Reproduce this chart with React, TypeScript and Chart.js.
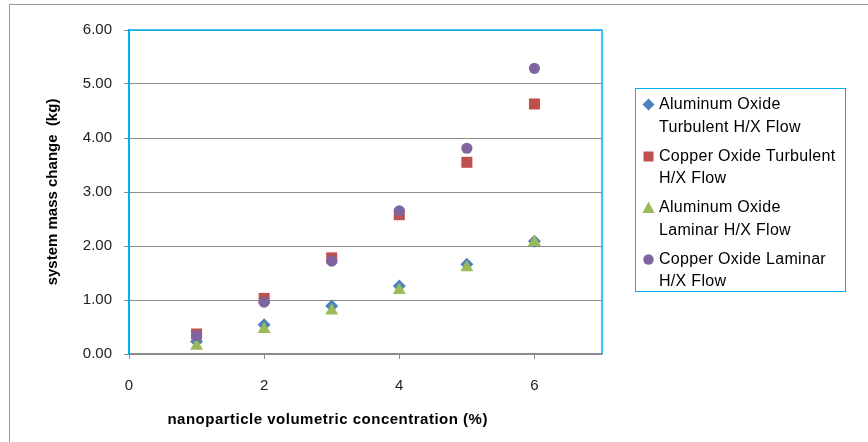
import React, { useEffect, useRef } from "react";
import { Chart, registerables } from "chart.js";

Chart.register(...registerables);

const xValues = [1, 2, 3, 4, 5, 6];
const aluminumTurbulent = [0.23, 0.54, 0.89, 1.26, 1.66, 2.09];
const copperTurbulent = [0.37, 1.03, 1.78, 2.58, 3.55, 4.63];
const aluminumLaminar = [0.15, 0.46, 0.8, 1.18, 1.6, 2.07];
const copperLaminar = [0.34, 0.96, 1.72, 2.65, 3.81, 5.29];
const xTicks = [0, 2, 4, 6];
const seriesNames = [
  ["Aluminum Oxide", "Turbulent H/X Flow"],
  ["Copper Oxide Turbulent", "H/X Flow"],
  ["Aluminum Oxide", "Laminar H/X Flow"],
  ["Copper Oxide Laminar", "H/X Flow"],
];
const xTitle = "nanoparticle volumetric concentration (%)";
const yTitle = "system mass change  (kg)";

const BLUE = "#4F81BD";
const RED = "#C0504D";
const GREEN = "#9BBB59";
const PURPLE = "#8064A2";
const CYAN = "#00B0F0";
const GRID = "#8C8C8C";
const FONT = "'Liberation Sans', Arial, sans-serif";

const toPts = (ys: number[]) => xValues.map((x, i) => ({ x, y: ys[i] }));

const framePlugin = {
  id: "frame",
  beforeDatasetsDraw(chart: any) {
    const { ctx, chartArea } = chart;
    ctx.save();
    ctx.strokeStyle = CYAN;
    ctx.lineWidth = 1.5;
    ctx.beginPath();
    ctx.moveTo(chartArea.left, chartArea.top);
    ctx.lineTo(chartArea.right, chartArea.top);
    ctx.lineTo(chartArea.right, chartArea.bottom);
    ctx.stroke();
    ctx.restore();
  },
  afterDraw(chart: any) {
    const { ctx, chartArea } = chart;
    ctx.save();
    ctx.fillStyle = "#000";
    ctx.font = `bold 15px ${FONT}`;
    (ctx as any).letterSpacing = "0.5px";
    ctx.textAlign = "center";
    ctx.textBaseline = "middle";
    ctx.fillText(xTitle, chartArea.left + (chartArea.right - chartArea.left) * 0.42, 420);
    ctx.restore();
  },
};

const markers = [
  (
    <svg width="13" height="13" key="d">
      <polygon points="6.5,0.5 12.5,6.5 6.5,12.5 0.5,6.5" fill={BLUE} />
    </svg>
  ),
  (
    <svg width="13" height="13" key="s">
      <rect x="1.5" y="1.5" width="10" height="10" fill={RED} />
    </svg>
  ),
  (
    <svg width="13" height="13" key="t">
      <polygon points="6.5,0.5 12.5,12 0.5,12" fill={GREEN} />
    </svg>
  ),
  (
    <svg width="13" height="13" key="c">
      <circle cx="6.5" cy="6.5" r="5.2" fill={PURPLE} />
    </svg>
  ),
];

export default function App() {
  const ref = useRef<HTMLCanvasElement | null>(null);
  useEffect(() => {
    if (!ref.current) return;
    const chart = new Chart(ref.current, {
      type: "scatter",
      data: {
        datasets: [
          { label: seriesNames[0].join(" "), data: toPts(aluminumTurbulent), pointStyle: "rectRot", pointRadius: 6.5, backgroundColor: BLUE, borderColor: BLUE, borderWidth: 0, order: 4 },
          { label: seriesNames[1].join(" "), data: toPts(copperTurbulent), pointStyle: "rect", pointRadius: 7.8, backgroundColor: RED, borderColor: RED, borderWidth: 0, order: 3 },
          { label: seriesNames[2].join(" "), data: toPts(aluminumLaminar), pointStyle: "triangle", pointRadius: 7.5, backgroundColor: GREEN, borderColor: GREEN, borderWidth: 0, order: 2 },
          { label: seriesNames[3].join(" "), data: toPts(copperLaminar), pointStyle: "circle", pointRadius: 5.6, backgroundColor: PURPLE, borderColor: PURPLE, borderWidth: 0, order: 1 },
        ] as any,
      },
      options: {
        animation: false,
        responsive: false,
        maintainAspectRatio: false,
        layout: { padding: { left: 0, top: 30, right: 266, bottom: 0 } },
        plugins: { legend: { display: false }, tooltip: { enabled: false } },
        scales: {
          x: {
            type: "linear",
            min: 0,
            max: 7,
            afterBuildTicks: (scale: any) => {
              scale.ticks = xTicks.map((v) => ({ value: v }));
            },
            afterFit: (scale: any) => {
              scale.height = 88;
            },
            grid: { drawOnChartArea: false, drawTicks: true, tickLength: 5, color: GRID, lineWidth: 1 },
            border: { display: true, color: GRID, width: 1.5 },
            ticks: { font: { family: FONT, size: 15 }, color: "#222", padding: 18, maxRotation: 0 },
          },
          y: {
            type: "linear",
            min: 0,
            max: 6,
            afterFit: (scale: any) => {
              scale.width = 129;
            },
            ticks: {
              stepSize: 1,
              font: { family: FONT, size: 15 },
              color: "#222",
              padding: 12,
              callback: (v: any) => Number(v).toFixed(2),
            },
            grid: { color: GRID, lineWidth: 1, drawTicks: true, tickLength: 5 },
            border: { display: true, color: CYAN, width: 2 },
            title: {
              display: true,
              text: yTitle,
              color: "#000",
              font: { family: FONT, size: 15, weight: "bold" },
              padding: { top: 44, bottom: 0 },
            },
          },
        },
      },
      plugins: [framePlugin],
    } as any);
    return () => chart.destroy();
  }, []);

  return (
    <div style={{ position: "absolute", left: 0, top: 0, width: 868, height: 442, overflow: "hidden", background: "#fff" }}>
      <div style={{ position: "absolute", left: 9, top: 4, width: 859, height: 438, borderLeft: "1.5px solid #999", borderTop: "1.5px solid #999" }} />
      <canvas ref={ref} width={868} height={442} style={{ position: "absolute", left: 0, top: 0, width: 868, height: 442 }} />
      <div
        style={{
          position: "absolute",
          left: 635,
          top: 88,
          width: 209,
          height: 202,
          border: `1.5px solid ${CYAN}`,
          fontFamily: FONT,
          fontSize: 16,
          letterSpacing: "0.3px",
          color: "#000",
          boxSizing: "content-box",
        }}
      >
        {seriesNames.map((lines, i) => (
          <div key={i} style={{ position: "absolute", left: 6, top: 4 + i * 51.5, display: "flex" }}>
            <div style={{ width: 17, paddingTop: 4 }}>{markers[i]}</div>
            <div style={{ lineHeight: "22.5px", whiteSpace: "nowrap" }}>
              {lines.map((t, j) => (
                <div key={j}>{t}</div>
              ))}
            </div>
          </div>
        ))}
      </div>
    </div>
  );
}
